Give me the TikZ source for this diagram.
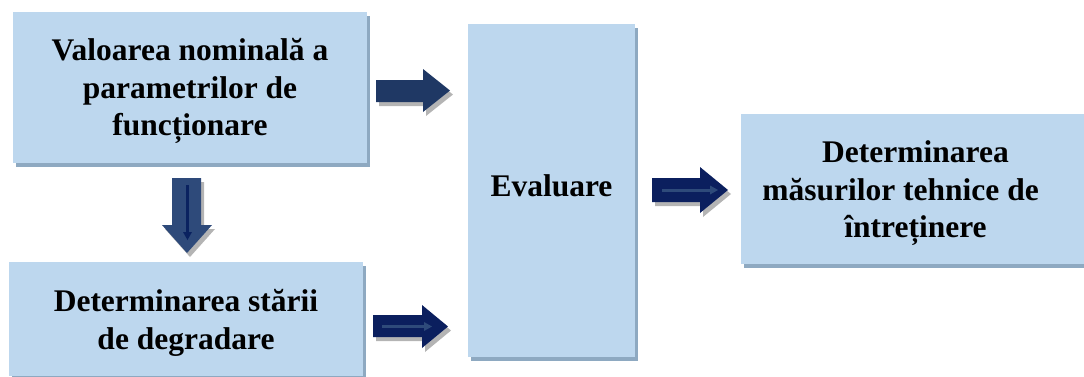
\documentclass[tikz,border=0pt]{standalone}
\usepackage{fontspec}
\setmainfont{Liberation Serif}
\usetikzlibrary{shadows}
\definecolor{boxfill}{HTML}{BDD7EE}
\definecolor{boxshadow}{HTML}{8EA9C1}
\definecolor{navyA}{HTML}{1F3864}
\definecolor{navyB}{HTML}{0B1F5E}
\definecolor{navyC}{HTML}{2E4A7A}
\definecolor{navyD}{HTML}{0A2260}
\definecolor{arrshadow}{HTML}{B4B4B4}
\begin{document}
\begin{tikzpicture}[x=1pt,y=-1pt,
  box/.style={fill=boxfill, draw=none, inner sep=0pt, align=center,
    font=\bfseries\fontsize{31.5}{37.5}\selectfont,
    drop shadow={shadow xshift=3pt, shadow yshift=-4pt, fill=boxshadow, opacity=1}},
  arrshad/.style={fill=arrshadow, draw=none},
  inner/.style={line width=3pt}
]
\useasboundingbox (0,0) rectangle (1084,376);

% boxes
\node[box, minimum width=354pt, minimum height=151pt] (val) at (190,87.5)
  {\rule{0pt}{30pt}Valoarea nominală a\\parametrilor de\\funcționare};
\node[box, minimum width=354pt, minimum height=114pt] (deg) at (186,319)
  {\rule{0pt}{30pt}Determinarea stării\\de degradare};
\node[box, minimum width=167pt, minimum height=333pt, text depth=10pt] (eval) at (551.5,190.5)
  {Evaluare};
\node[box, minimum width=349pt, minimum height=150pt] (mas) at (915.5,189)
  {\rule{0pt}{31pt}Determinarea\\măsurilor tehnice de\rule{30pt}{0pt}\\întreținere};

% arrow 1: val -> eval (top)
\fill[arrshad, shift={(3,4)}] (376,80) -- (423,80) -- (423,69) -- (450,90.5) -- (423,112) -- (423,102) -- (376,102) -- cycle;
\fill[navyA] (376,80) -- (423,80) -- (423,69) -- (450,90.5) -- (423,112) -- (423,102) -- (376,102) -- cycle;

% arrow 2: val -> deg (down)
\fill[arrshad, shift={(3,4)}] (172,178) -- (201,178) -- (201,225) -- (212,225) -- (187,253) -- (162,225) -- (172,225) -- cycle;
\fill[navyC] (172,178) -- (201,178) -- (201,225) -- (212,225) -- (187,253) -- (162,225) -- (172,225) -- cycle;
\draw[navyD, inner] (187.5,185) -- (187.5,234);
\fill[navyD] (183,232) -- (192,232) -- (187.5,240) -- cycle;

% arrow 3: eval -> mas
\fill[arrshad, shift={(3,4)}] (652,178) -- (700,178) -- (700,167) -- (728,190) -- (700,213) -- (700,202) -- (652,202) -- cycle;
\fill[navyB] (652,178) -- (700,178) -- (700,167) -- (728,190) -- (700,213) -- (700,202) -- (652,202) -- cycle;
\draw[navyC, inner] (662,190) -- (712,190);
\fill[navyC] (710,185.5) -- (718,190) -- (710,194.5) -- cycle;

% arrow 4: deg -> eval (bottom)
\fill[arrshad, shift={(3,4)}] (373,315) -- (422,315) -- (422,305) -- (448,326.5) -- (422,348) -- (422,337) -- (373,337) -- cycle;
\fill[navyB] (373,315) -- (422,315) -- (422,305) -- (448,326.5) -- (422,348) -- (422,337) -- (373,337) -- cycle;
\draw[navyC, inner] (382,326.5) -- (426,326.5);
\fill[navyC] (424,322) -- (432,326.5) -- (424,331) -- cycle;
\end{tikzpicture}
\end{document}
